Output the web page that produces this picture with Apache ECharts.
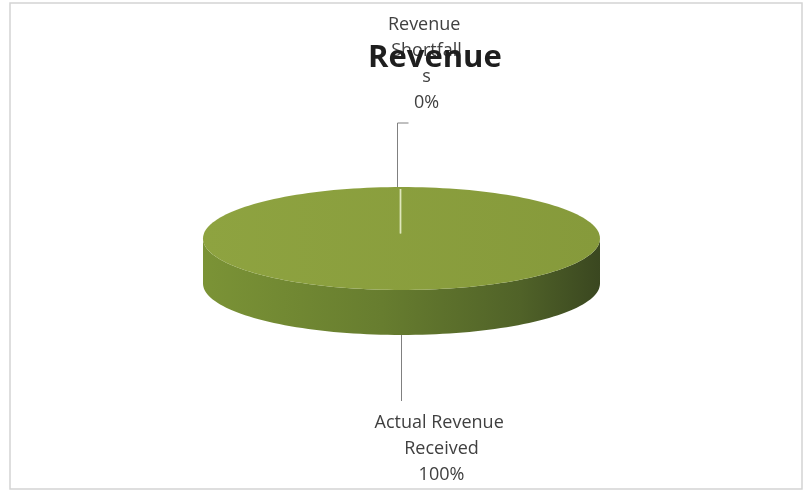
<!DOCTYPE html>
<html>
<head>
<meta charset="utf-8">
<script src="https://cdn.jsdelivr.net/npm/echarts@6/dist/echarts.min.js"></script>
<style>
  html, body { margin: 0; padding: 0; background: #ffffff; }
  #chart { width: 811px; height: 494px; }
</style>
</head>
<body>
<div id="chart"></div>
<script>
// Revenue breakdown
const chartTitle = 'Revenue';
const categories = ['Actual Revenue Received', 'Revenue Shortfalls'];
const revenueValues = [100, 0];

const total = revenueValues.reduce((a, b) => a + b, 0);
// start angle of each slice, degrees clockwise from 12 o'clock
const startAngles = [];
let running = 0;
revenueValues.forEach(v => { startAngles.push(running / total * 360); running += v; });

// 3D pie geometry (tilted disc)
const PIE = { cx: 401.5, cy: 238.5, rx: 198.5, ry: 51.5, depth: 45 };
// label layout per slice: leader length, elbow, label offset, wrap width
const labelLayout = [
  { leader: 66, elbow: 0, dx: 40, gap: 9, wrap: 140 },
  { leader: 64, elbow: 11, dx: 25, gap: 7, wrap: 78 }
];

function pt(deg, dy) {
  const r = deg * Math.PI / 180;
  return [PIE.cx + PIE.rx * Math.sin(r), PIE.cy - PIE.ry * Math.cos(r) + (dy || 0)];
}
function arc(a0, a1, dy) {
  const n = Math.max(2, Math.ceil(Math.abs(a1 - a0) / 2));
  const pts = [];
  for (let i = 0; i <= n; i++) pts.push(pt(a0 + (a1 - a0) * i / n, dy));
  return pts;
}

const sideFill = new echarts.graphic.LinearGradient(0, 0, 1, 0, [
  { offset: 0, color: '#7b9336' },
  { offset: 0.45, color: '#677d2f' },
  { offset: 0.8, color: '#506228' },
  { offset: 1, color: '#3a4720' }
]);
const topFill = new echarts.graphic.LinearGradient(0, 0, 1, 0, [
  { offset: 0, color: '#8ea340' },
  { offset: 1, color: '#869a3b' }
]);

function renderSlice(params, api) {
  const i = params.dataIndex;
  const v = api.value(0);
  const a0 = startAngles[i];
  const a1 = a0 + v / total * 360;
  const children = [];

  if (a1 > a0) {
    // visible side wall: front half of the disc
    [[90, 270], [450, 630]].forEach(([f0, f1]) => {
      const s = Math.max(a0, f0), e = Math.min(a1, f1);
      if (e > s) {
        const pts = arc(s, e, 0).concat(arc(e, s, PIE.depth));
        children.push({ type: 'polygon', shape: { points: pts }, style: { fill: sideFill } });
      }
    });
    const face = (a1 - a0 >= 360) ? arc(0, 360, 0) : [[PIE.cx, PIE.cy]].concat(arc(a0, a1, 0));
    children.push({ type: 'polygon', shape: { points: face }, style: { fill: topFill } });
  }

  // slice boundary on the top face
  const edge = pt(a0, 0);
  children.push({
    type: 'line',
    shape: { x1: PIE.cx - 1, y1: PIE.cy - 5, x2: edge[0] - 1, y2: edge[1] + 2 },
    style: { stroke: 'rgba(225,232,190,0.85)', lineWidth: 1.5 }
  });

  // label with leader line
  const mid = (a0 + a1) / 2;
  const front = Math.cos(mid * Math.PI / 180) < 0;
  const lay = labelLayout[i];
  const pct = Math.round(v / total * 100) + '%';
  const text = categories[i] + '\n' + pct;
  const textStyle = {
    text: text,
    fill: '#404040',
    font: '18px "Open Sans"',
    lineHeight: 26,
    width: lay.wrap,
    overflow: 'break',
    align: 'center'
  };
  if (front) {
    const a = pt(mid, PIE.depth);
    const yEnd = a[1] + lay.leader;
    children.push({
      type: 'line',
      shape: { x1: a[0], y1: a[1], x2: a[0], y2: yEnd },
      style: { stroke: '#808080', lineWidth: 1 }
    });
    children.push({
      type: 'text', x: a[0] + lay.dx, y: yEnd + lay.gap,
      style: Object.assign({ verticalAlign: 'top' }, textStyle)
    });
  } else {
    const a = pt(mid, 0);
    const yEnd = a[1] - lay.leader;
    children.push({
      type: 'polyline',
      shape: { points: [[a[0] - 4, a[1]], [a[0] - 4, yEnd], [a[0] - 4 + lay.elbow, yEnd]] },
      style: { stroke: '#808080', lineWidth: 1, fill: null }
    });
    children.push({
      type: 'text', x: a[0] + lay.dx, y: yEnd - lay.gap,
      style: Object.assign({ verticalAlign: 'bottom' }, textStyle)
    });
  }
  return { type: 'group', children: children };
}

const chart = echarts.init(document.getElementById('chart'), null, { renderer: 'canvas' });
chart.setOption({
  backgroundColor: '#ffffff',
  animation: false,
  graphic: [{
    type: 'rect',
    shape: { x: 10, y: 3, width: 792, height: 486 },
    style: { fill: null, stroke: '#d4d4d4', lineWidth: 1.5 },
    z: -10
  }],
  title: {
    text: chartTitle,
    left: 363,
    top: 34,
    z: 10,
    textStyle: {
      fontFamily: 'Open Sans',
      fontSize: 31,
      fontWeight: 'bold',
      color: '#1e1e1e',
      lineHeight: 38
    }
  },
  series: [{
    type: 'custom',
    coordinateSystem: 'none',
    renderItem: renderSlice,
    data: revenueValues.map((v, i) => ({ name: categories[i], value: [v] })),
    z: 2
  }]
});
</script>
</body>
</html>
